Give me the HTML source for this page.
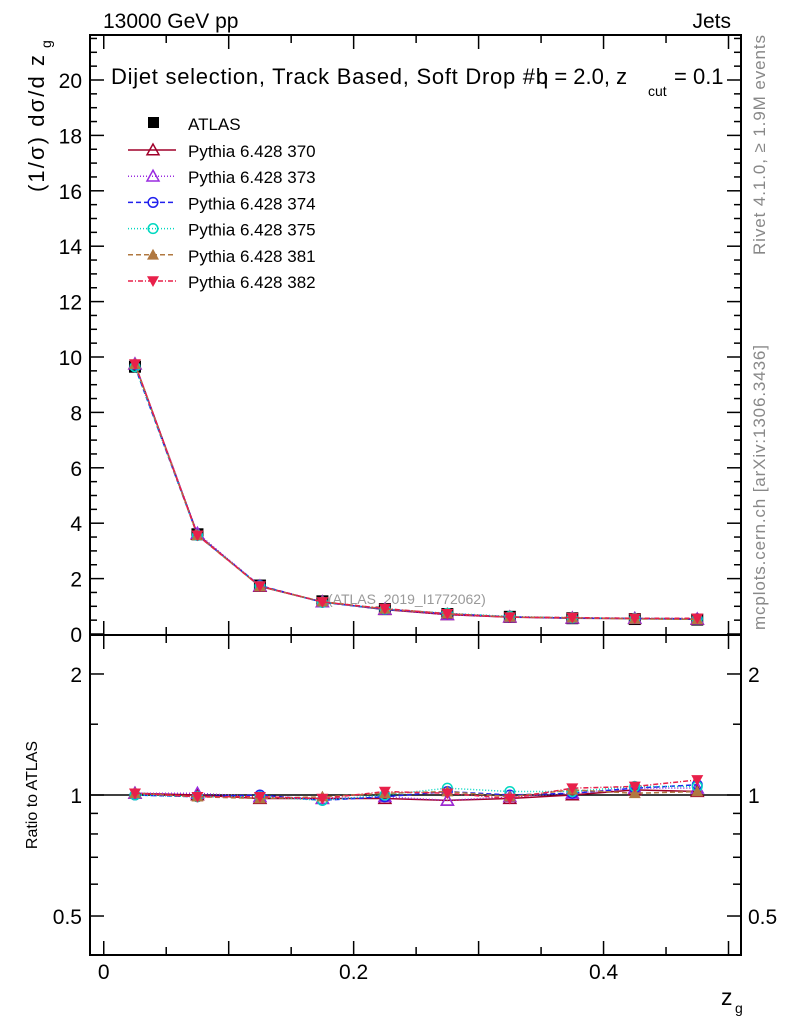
<!DOCTYPE html>
<html><head><meta charset="utf-8"><style>
body{margin:0;background:#fff;}
svg{display:block;font-family:"Liberation Sans",sans-serif;}
</style></head><body>
<svg id="chart" width="786" height="1024" xmlns="http://www.w3.org/2000/svg"></svg>
<script>
const xCenters=[0.025,0.075,0.125,0.175,0.225,0.275,0.325,0.375,0.425,0.475];
const atlasVals=[9.65,3.6,1.75,1.18,0.9,0.72,0.62,0.57,0.54,0.52];
const r370=[1.01,1.0,0.98,0.98,0.98,0.97,0.98,1.0,1.03,1.02];
const r373=[1.01,1.01,0.99,0.98,0.99,0.97,0.99,1.01,1.04,1.04];
const r374=[1.0,0.99,1.0,0.97,0.99,1.02,1.0,1.01,1.04,1.06];
const r375=[1.0,0.99,0.99,0.97,1.0,1.04,1.02,1.02,1.05,1.05];
const r381=[1.01,0.99,0.98,0.99,1.01,1.02,0.99,1.03,1.01,1.02];
const r382=[1.01,0.99,0.99,0.98,1.02,1.01,0.98,1.04,1.05,1.09];
const mainTicks=[0,2,4,6,8,10,12,14,16,18,20];
const ratioTicks=[0.5,1,2];
const xTicks=[0,0.2,0.4];
const seriesNames=["Pythia 6.428 370","Pythia 6.428 373","Pythia 6.428 374","Pythia 6.428 375","Pythia 6.428 381","Pythia 6.428 382"];

const L=90,R=741,MT=35,MB=635,RT=635,RB=955;
const xmin=-0.011,xmax=0.51;
const X=v=>L+(v-xmin)/(xmax-xmin)*(R-L);
const YM=v=>634-v*27.7;
const YR=v=>795-Math.log10(v)*402;
const svg=document.getElementById('chart');
const NS="http://www.w3.org/2000/svg";
function mk(tag,attrs,parent){const e=document.createElementNS(NS,tag);for(const k in attrs)e.setAttribute(k,attrs[k]);(parent||svg).appendChild(e);return e;}
function txt(s,x,y,size,anchor,fill,name){const t=mk('text',{x:x,y:y,'font-size':size,'text-anchor':anchor||'start',fill:fill||'#000'});t.textContent=s;return t;}

const f1=mk('rect',{x:L,y:MT,width:R-L,height:MB-MT,fill:'none',stroke:'#000','stroke-width':2});


const f2=mk('rect',{x:L,y:RT,width:R-L,height:RB-RT,fill:'none',stroke:'#000','stroke-width':2});



for(let v=0;v<=0.5001;v+=0.05){const big=Math.abs(v*10-Math.round(v*10))<1e-6;const l=big?14:8;
 for(const [yb,yt] of [[MB,MT],[RB,RT]]){mk('line',{x1:X(v),x2:X(v),y1:yb,y2:yb-l,stroke:'#000','stroke-width':1.5});mk('line',{x1:X(v),x2:X(v),y1:yt,y2:yt+l,stroke:'#000','stroke-width':1.5});}}
xTicks.forEach(v=>txt(String(v),X(v),979,21,'middle','#000','x-tick-label'));
txt('z',721,1005,23,'start','#000','x-axis-title');txt('g',735,1013,14,'start','#000','x-axis-title-sub');

for(let v=0;v<=21.5;v+=0.5){const big=v%2===0;const l=big?14:7;const y=YM(v);if(y<MT)continue;
 mk('line',{x1:L,x2:L+l,y1:y,y2:y,stroke:'#000','stroke-width':1.5});mk('line',{x1:R,x2:R-l,y1:y,y2:y,stroke:'#000','stroke-width':1.5});}
mainTicks.forEach(v=>txt(String(v),82,YM(v)+8,21,'end','#000','main-y-tick-label'));
const yt=txt('(1/σ) dσ/d z',0,0,22,'start','#000','main-y-axis-title');yt.setAttribute('transform','translate(44,192) rotate(-90)');yt.setAttribute('textLength','137');
const yts=txt('g',0,0,14,'start','#000','main-y-axis-title-sub');yts.setAttribute('transform','translate(51,48) rotate(-90)');

const rminor=[0.4,0.6,0.7,0.8,0.9,1.5,2.5];
rminor.forEach(v=>{const y=YR(v);mk('line',{x1:L,x2:L+8,y1:y,y2:y,stroke:'#000','stroke-width':1.5});mk('line',{x1:R,x2:R-8,y1:y,y2:y,stroke:'#000','stroke-width':1.5});});
ratioTicks.forEach(v=>{const y=YR(v);mk('line',{x1:L,x2:L+14,y1:y,y2:y,stroke:'#000','stroke-width':1.5});mk('line',{x1:R,x2:R-14,y1:y,y2:y,stroke:'#000','stroke-width':1.5});
 txt(String(v),82,y+8,21,'end','#000','ratio-y-tick-label');txt(String(v),748,y+8,21,'start','#000','ratio-y-tick-label-right');});
const rt=txt('Ratio to ATLAS',0,0,16,'middle','#000','ratio-y-axis-title');rt.setAttribute('transform','translate(37,795) rotate(-90)');
mk('line',{x1:L,x2:R,y1:YR(1),y2:YR(1),stroke:'#000','stroke-width':1.5});

txt('13000 GeV pp',103,28,21,'start','#000','header-energy');
txt('Jets',731,28,21,'end','#000','header-process');
const tt=txt('Dijet selection, Track Based, Soft Drop #b',111,84,22,'start','#000','plot-title');tt.setAttribute('textLength','437');
txt('η = 2.0, z',536,84,22,'start','#000','plot-title-2');
txt('cut',648,96,14,'start','#000','plot-title-sub');
txt('= 0.1',674,84,22,'start','#000','plot-title-3');
const s1=txt('Rivet 4.1.0, ≥ 1.9M events',0,0,17,'start','#888','rivet-label');s1.setAttribute('transform','translate(765,255) rotate(-90)');s1.setAttribute('textLength','220');
const s2=txt('mcplots.cern.ch [arXiv:1306.3436]',0,0,17,'start','#888','mcplots-label');s2.setAttribute('transform','translate(765,630) rotate(-90)');s2.setAttribute('textLength','285');
txt('(ATLAS_2019_I1772062)',328,604,14,'start','#999','analysis-label');

const styles=[
 {c:'#a0002a',d:'',m:'tri'},
 {c:'#9a2be0',d:'1,2',m:'tri'},
 {c:'#2020ee',d:'5,3',m:'circ'},
 {c:'#00d8c0',d:'1,2',m:'circ'},
 {c:'#b07840',d:'5,3',m:'ftri'},
 {c:'#e8204a',d:'5,2,1,2',m:'dtri'}];
function marker(m,x,y,c,s,g){
 if(m==='tri')return mk('polygon',{points:`${x},${y-s} ${x-s},${y+s*0.8} ${x+s},${y+s*0.8}`,fill:'none',stroke:c,'stroke-width':1.5},g);
 if(m==='ftri')return mk('polygon',{points:`${x},${y-s} ${x-s},${y+s*0.8} ${x+s},${y+s*0.8}`,fill:c},g);
 if(m==='dtri')return mk('polygon',{points:`${x},${y+s} ${x-s},${y-s*0.8} ${x+s},${y-s*0.8}`,fill:c},g);
 return mk('circle',{cx:x,cy:y,r:s*0.8,fill:'none',stroke:c,'stroke-width':1.5},g);}
const ratios=[r370,r373,r374,r375,r381,r382];

const ag=mk('g',{});
xCenters.forEach((x,i)=>{mk('rect',{x:X(x)-6,y:YM(atlasVals[i])-6,width:12,height:12,fill:'#000'},ag);});

ratios.forEach((r,k)=>{const st=styles[k];
 const g=mk('g',{});
 const pm=xCenters.map((x,i)=>`${X(x)},${YM(atlasVals[i]*r[i])}`).join(' ');
 mk('polyline',{points:pm,fill:'none',stroke:st.c,'stroke-width':1.5,'stroke-dasharray':st.d},g);
 const pr=xCenters.map((x,i)=>`${X(x)},${YR(r[i])}`).join(' ');
 mk('polyline',{points:pr,fill:'none',stroke:st.c,'stroke-width':1.5,'stroke-dasharray':st.d},g);
 xCenters.forEach((x,i)=>{marker(st.m,X(x),YM(atlasVals[i]*r[i]),st.c,6,g);marker(st.m,X(x),YR(r[i]),st.c,6,g);});
});

const lg=mk('g',{});
mk('rect',{x:148,y:117,width:11,height:11,fill:'#000'},lg);
txt('ATLAS',188,130,17,'start','#000','legend-entry-atlas');
seriesNames.forEach((n,k)=>{const y=150+k*26.2;const st=styles[k];
 mk('line',{x1:128,x2:176,y1:y,y2:y,stroke:st.c,'stroke-width':1.5,'stroke-dasharray':st.d},lg);
 marker(st.m,153,y,st.c,6,lg);
 txt(n,188,y+7,17,'start','#000','legend-entry');});
</script>
</body></html>
